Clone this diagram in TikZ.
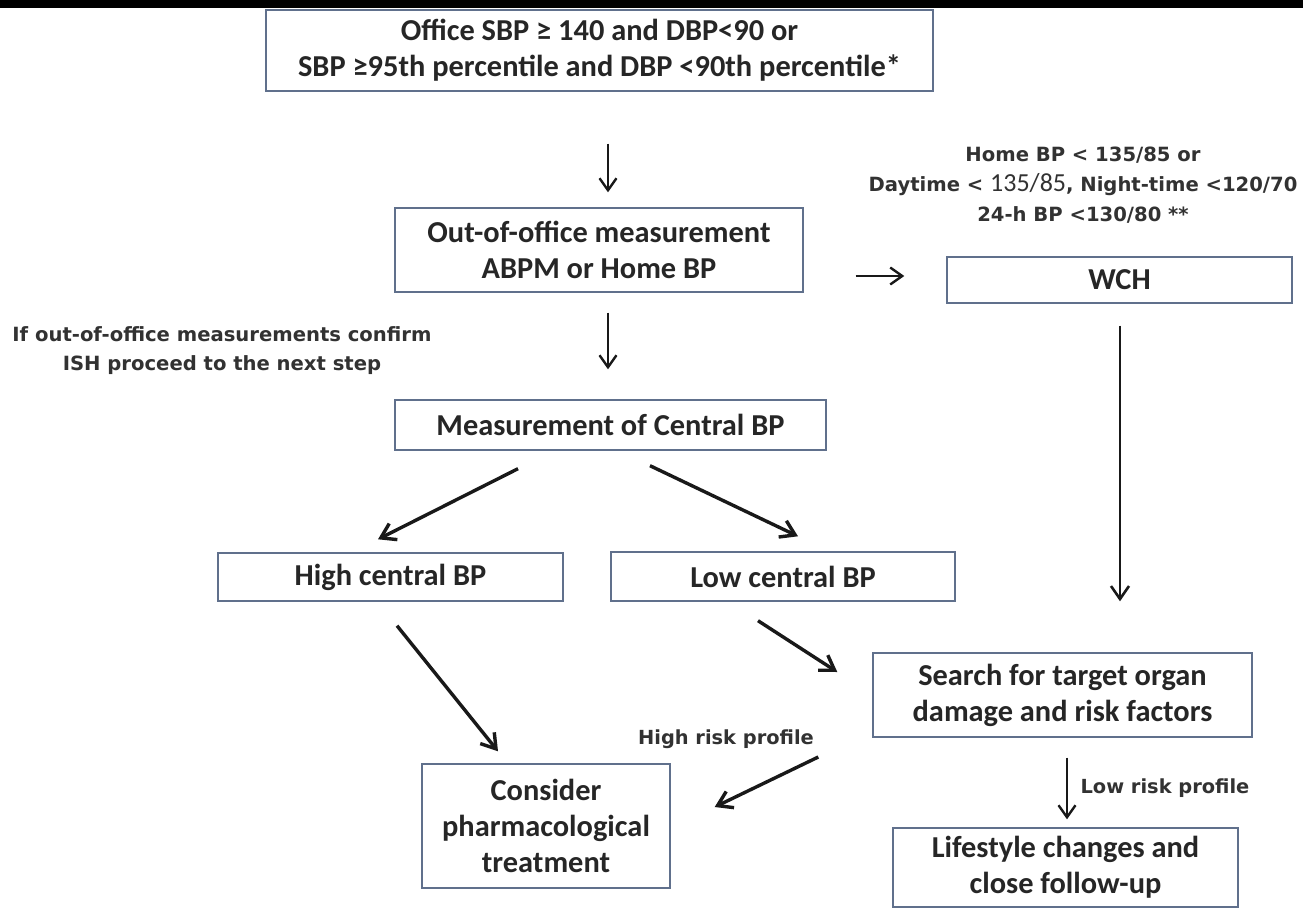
\documentclass[tikz,border=0pt]{standalone}
\usepackage{fontspec}
\setmainfont{Carlito}
\newfontfamily\annfont{DejaVu Sans}
\usetikzlibrary{arrows.meta}
\definecolor{boxc}{RGB}{96,112,140}
\definecolor{txtc}{RGB}{38,38,38}
\definecolor{annc}{RGB}{50,50,50}
\definecolor{arrc}{RGB}{25,25,25}
\tikzset{
 box/.style={draw=boxc, line width=0.7pt, fill=white, align=center, inner sep=0pt, text=txtc, font=\fontsize{15.2}{18}\selectfont\bfseries},
 ann/.style={align=center, inner sep=0pt, text=annc, font=\annfont\fontsize{9.8}{15}\selectfont\bfseries},
 arrthin/.style={draw=arrc, line width=1.2pt, -{Straight Barb[length=6pt,width=8.5pt]}},
 arrmid/.style={draw=arrc, line width=1.3pt, -{Straight Barb[length=6.5pt,width=9pt]}},
 arrthick/.style={draw=arrc, line width=1.7pt, -{Straight Barb[length=7pt,width=9pt]}},
}
\begin{document}
\begin{tikzpicture}[x=0.5pt,y=-0.5pt]
\useasboundingbox (0,0) rectangle (1303,910);
\fill[white] (0,0) rectangle (1303,910);
\fill[black] (0,0) rectangle (1303,8);
\node[box, minimum width=333.5pt, minimum height=40.5pt] (top) at (599.5,50.5) {Office SBP ≥ 140 and DBP<90 or\\SBP ≥95th percentile and DBP <90th percentile*};
\node[box, minimum width=204pt, minimum height=42pt] (oom) at (599,250) {Out-of-office measurement\\ABPM or Home BP};
\node[box, minimum width=172.5pt, minimum height=23pt] (wch) at (1119.5,280) {WCH};
\node[box, minimum width=215.5pt, minimum height=25pt] (central) at (610.5,425) {Measurement of Central BP};
\node[box, minimum width=172.5pt, minimum height=24pt] (high) at (390.5,577) {High central BP};
\node[box, minimum width=172pt, minimum height=24.5pt] (low) at (783,576.5) {Low central BP};
\node[box, minimum width=189.5pt, minimum height=42pt] (search) at (1062.5,695) {Search for target organ\\damage and risk factors};
\node[box, minimum width=124pt, minimum height=62pt] (consider) at (546,826) {Consider\\pharmacological\\treatment};
\node[box, minimum width=172.5pt, minimum height=39.5pt] (life) at (1065.5,867.5) {Lifestyle changes and\\close follow-up};
\node[ann] (cond) at (1083,185) {Home BP < 135/85 or\\Daytime < {\normalfont\fontsize{13}{15}\selectfont 135/85}, Night-time <120/70\\24-h BP <130/80 **};
\node[ann, font=\annfont\fontsize{9.8}{14.5}\selectfont\bfseries] (confirm) at (222,351) {If out-of-office measurements confirm\\ISH proceed to the next step};
\node[ann, font=\annfont\fontsize{9.7}{12}\selectfont\bfseries] (hr) at (726,739) {High risk profile};
\node[ann, font=\annfont\fontsize{9.7}{12}\selectfont\bfseries] (lr) at (1165,788) {Low risk profile};
\draw[arrthin] ([shift={(8.5,52)}]top.south) -- ([shift={(9,-15)}]oom.north);
\draw[arrthin] ([shift={(9,20)}]oom.south) -- ([shift={(-2.5,-30)}]central.north);
\draw[arrthin] ([shift={(52,26)}]oom.east) -- ([shift={(-42,-4)}]wch.west);
\draw[arrmid] ([shift={(0.5,22)}]wch.south) -- ([shift={(57.5,-51)}]search.north);
\draw[arrthick] ([shift={(-92.5,18)}]central.south) -- ([shift={(-12.5,-13)}]high.north);
\draw[arrthick] ([shift={(39.5,15)}]central.south) -- ([shift={(15,-15)}]low.north);
\draw[arrthick] ([shift={(6.5,24)}]high.south) -- ([shift={(-48,-12)}]consider.north);
\draw[arrthick] ([shift={(-25,19)}]low.south) -- ([shift={(-35,-23)}]search.west);
\draw[arrthick] ([shift={(-54,62)}]search.west) -- ([shift={(44,-19)}]consider.east);
\draw[arrthin] ([shift={(4.5,20)}]search.south) -- ([shift={(1.5,-8)}]life.north);
\end{tikzpicture}
\end{document}
